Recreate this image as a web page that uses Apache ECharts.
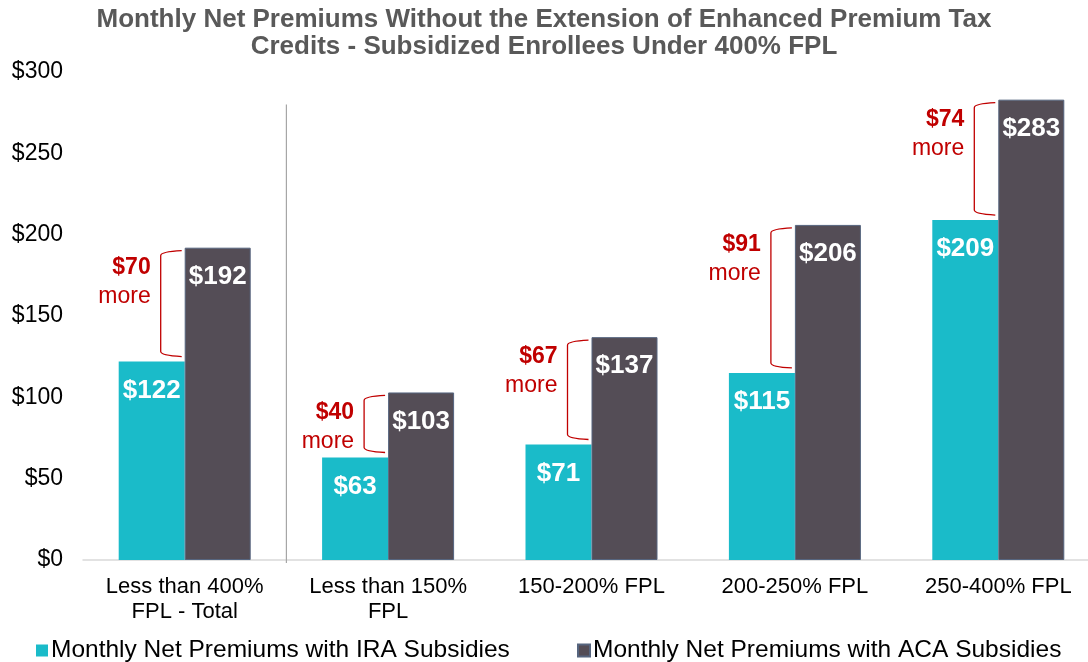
<!DOCTYPE html>
<html>
<head>
<meta charset="utf-8">
<script src="https://cdn.jsdelivr.net/npm/echarts@6/dist/echarts.min.js"></script>
<style>html,body{margin:0;padding:0;background:#fff;}#c{width:1088px;height:662px;}</style>
</head>
<body>
<div id="c"></div>
<script>
var categories = ['Less than 400%\nFPL - Total', 'Less than 150%\nFPL', '150-200% FPL', '200-250% FPL', '250-400% FPL'];
var iraValues = [122, 63, 71, 115, 209];
var acaValues = [192, 103, 137, 206, 283];
var diffLabels = [70, 40, 67, 91, 74];
var yTicks = [0, 50, 100, 150, 200, 250, 300];

var FONT = '"Liberation Sans", Arial, sans-serif';
var RED = '#C00000';

var bracketData = categories.map(function (c, i) {
  return [i, iraValues[i], acaValues[i], diffLabels[i]];
});

var chart = echarts.init(document.getElementById('c'));
chart.setOption({
  animation: false,
  backgroundColor: '#fff',
  textStyle: { fontFamily: FONT },
  title: {
    text: 'Monthly Net Premiums Without the Extension of Enhanced Premium Tax\nCredits - Subsidized Enrollees Under 400% FPL',
    left: 'center',
    top: 1,
    textStyle: { fontFamily: FONT, fontWeight: 'bold', fontSize: 26, color: '#595959', lineHeight: 27 }
  },
  legend: [
    {
      data: ['Monthly Net Premiums with IRA Subsidies'],
      left: 31, top: 633, icon: 'rect', itemWidth: 12, itemHeight: 12, itemGap: 4,
      textStyle: { fontFamily: FONT, fontSize: 24.5, color: '#000', padding: [0, 0, 0, -2] }
    },
    {
      data: ['Monthly Net Premiums with ACA Subsidies'],
      left: 572, top: 633, icon: 'rect', itemWidth: 12, itemHeight: 12, itemGap: 4,
      textStyle: { fontFamily: FONT, fontSize: 24.5, color: '#000', padding: [0, 0, 0, -2] }
    }
  ],
  grid: { left: 83, width: 1017, top: 72, height: 488, containLabel: false, outerBoundsMode: 'none' },
  xAxis: {
    type: 'category',
    data: categories,
    axisLine: { show: true, lineStyle: { color: '#d9d9d9', width: 1.5 } },
    axisTick: { show: false },
    axisLabel: { fontFamily: FONT, fontSize: 22, color: '#000', lineHeight: 25, margin: 14, interval: 0 }
  },
  yAxis: {
    type: 'value',
    min: yTicks[0], max: yTicks[yTicks.length - 1], interval: 50,
    splitLine: { show: false },
    axisLine: { show: false },
    axisTick: { show: false },
    axisLabel: { fontFamily: FONT, fontSize: 23, color: '#000', margin: 20, formatter: function (v) { return '$' + v; } }
  },
  series: [
    {
      name: 'Monthly Net Premiums with IRA Subsidies',
      type: 'bar',
      data: iraValues,
      barWidth: 66,
      barGap: '0%',
      itemStyle: { color: '#1ABBC9' },
      label: { show: true, position: 'insideTop', distance: 16, color: '#fff', fontWeight: 'bold', fontSize: 26, fontFamily: FONT, formatter: function (p) { return '$' + p.value; } }
    },
    {
      name: 'Monthly Net Premiums with ACA Subsidies',
      type: 'bar',
      data: acaValues,
      barWidth: 66,
      itemStyle: { color: '#544D56', borderColor: '#56657F', borderWidth: 1 },
      label: { show: true, position: 'insideTop', distance: 16, color: '#fff', fontWeight: 'bold', fontSize: 26, fontFamily: FONT, formatter: function (p) { return '$' + p.value; } }
    },
    {
      type: 'custom',
      data: bracketData,
      z: 10,
      silent: true,
      renderItem: function (params, api) {
        var i = api.value(0);
        var top = api.coord([i, api.value(2)]);
        var bot = api.coord([i, api.value(1)]);
        var band = api.size([1, 0])[0];
        var cx = top[0];
        var x0 = cx - 24, x1 = cx - 3;
        var y1 = top[1] + 5, y2 = bot[1] - 7;
        var path = 'M' + x1 + ',' + (y1 - 2) + ' Q' + x0 + ',' + (y1 - 1) + ' ' + x0 + ',' + (y1 + 3) +
          ' L' + x0 + ',' + (y2 - 3) + ' Q' + x0 + ',' + (y2 + 1) + ' ' + x1 + ',' + (y2 + 2);
        var children = [
          { type: 'path', shape: { pathData: path }, style: { stroke: RED, fill: null, lineWidth: 1.3 } },
          { type: 'text', style: { text: '$' + api.value(3), x: cx - 34, y: top[1] + 20, align: 'right', verticalAlign: 'middle', fill: RED, font: 'bold 23px ' + FONT } },
          { type: 'text', style: { text: 'more', x: cx - 34, y: top[1] + 49, align: 'right', verticalAlign: 'middle', fill: RED, font: '23px ' + FONT } }
        ];
        if (i === 0) {
          var sx = cx + band / 2;
          var st = api.coord([i, 280]);
          var sb = api.coord([i, 0]);
          children.push({ type: 'line', shape: { x1: sx, y1: st[1], x2: sx, y2: sb[1] + 3 }, style: { stroke: '#a6a6a6', lineWidth: 1.2 } });
        }
        return { type: 'group', children: children };
      }
    }
  ]
});
</script>
</body>
</html>
